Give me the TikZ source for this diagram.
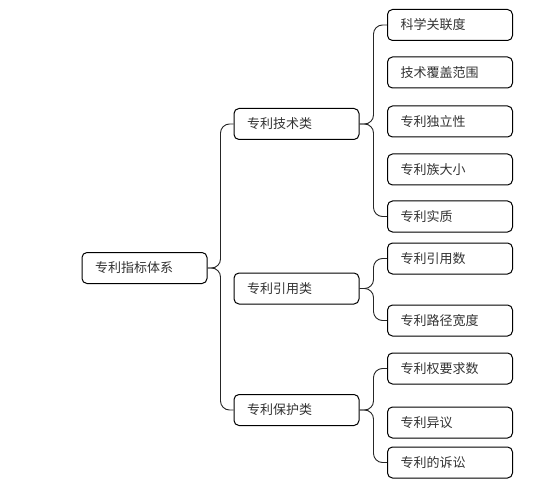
\documentclass[tikz,border=0pt]{standalone}
\usepackage{fontspec}
\setmainfont{Noto Sans CJK SC}
\usepackage{tikz}
\usetikzlibrary{positioning}

\begin{document}
\begin{tikzpicture}[
    x=1pt, y=-1pt,
    item/.style={
        rectangle, draw=black, fill=white, line width=1pt, rounded corners=5pt,
        minimum height=31pt, text width=99pt, inner xsep=13pt, align=left,
        font=\fontsize{13}{15}\selectfont, text=black!80
    },
    brace/.style={
        draw=black!85, line width=0.9pt, rounded corners=9pt
    }
]
\useasboundingbox (0,0) rectangle (540,486);

% Root
\node[item] (root) at (144.5,268) {专利指标体系};

% Level 1: categories
\node[item] (tech) at (296.5,124) {专利技术类};
\node[item] (cite) at (296.5,288.5) {专利引用类};
\node[item] (prot) at (296.5,410) {专利保护类};

% Level 2: technology indicators
\node[item] (sci)   at (450,25)    {科学关联度};
\node[item] (cover) at (450,72.5)  {技术覆盖范围};
\node[item] (indep) at (450,121.5) {专利独立性};
\node[item] (fam)   at (450,169.5) {专利族大小};
\node[item] (subst) at (450,216.5) {专利实质};

% Level 2: citation indicators
\node[item] (ncite) at (450,258.5) {专利引用数};
\node[item] (path)  at (450,320.5) {专利路径宽度};

% Level 2: protection indicators
\node[item] (claim) at (450,368.5) {专利权要求数};
\node[item] (oppo)  at (450,422.5) {专利异议};
\node[item] (suit)  at (450,462.5) {专利的诉讼};

% Braces
\draw[brace] (root.east) -- ++(13,0) |- (tech.west);
\draw[brace] (root.east) -- ++(13,0) |- (prot.west);
\draw[brace] (tech.east) -- ++(14,0) |- (sci.west);
\draw[brace] (tech.east) -- ++(14,0) |- (subst.west);
\draw[brace] (cite.east) -- ++(14,0) |- (ncite.west);
\draw[brace] (cite.east) -- ++(14,0) |- (path.west);
\draw[brace] (prot.east) -- ++(14,0) |- (claim.west);
\draw[brace] (prot.east) -- ++(14,0) |- (suit.west);

\end{tikzpicture}
\end{document}
